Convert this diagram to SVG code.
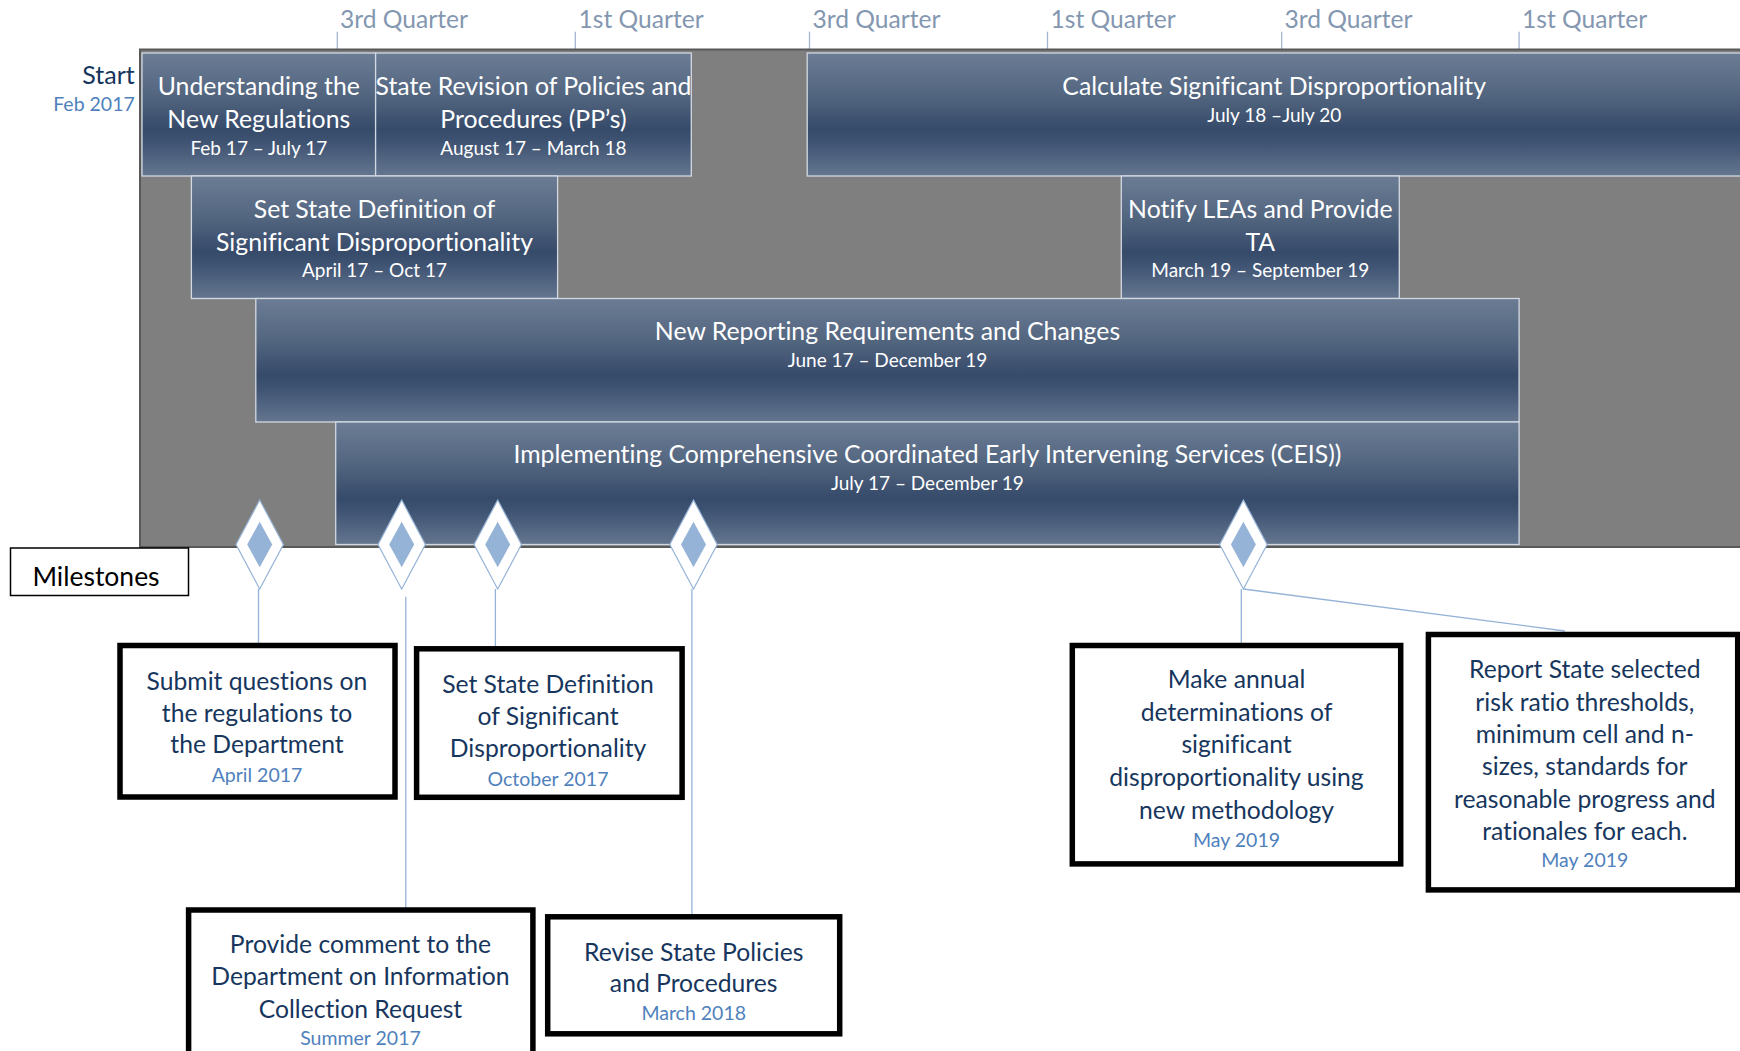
<svg xmlns="http://www.w3.org/2000/svg" width="1740" height="1051" viewBox="0 0 1740 1051">
<defs>
<linearGradient id="barg" x1="0" y1="0" x2="0" y2="1">
<stop offset="0" stop-color="#6C7C95"/>
<stop offset="0.35" stop-color="#52657F"/>
<stop offset="0.62" stop-color="#364A6A"/>
<stop offset="0.72" stop-color="#3E5272"/>
<stop offset="1" stop-color="#64768F"/>
</linearGradient>
<style>
text{font-family:Lato,"Liberation Sans",sans-serif;text-anchor:middle;font-variant-ligatures:none}
.q{font-size:24.6px;fill:#8497B0;text-anchor:start}
.tick{stroke:#A3B5CE;stroke-width:1.3}
.bar{fill:url(#barg);stroke:#D3D9E2;stroke-width:1.3}
.bt{font-size:24.8px;fill:#FFFFFF}
.bd{font-size:19px;fill:#FFFFFF}
.mb{fill:#FFFFFF;stroke:#000000;stroke-width:5.5}
.mt{font-size:24.7px;fill:#17365D}
.md{font-size:19.5px;fill:#4F81BD}
.conn{stroke:#95B3D7;stroke-width:1.3;fill:none}
.dout{fill:#FFFFFF;stroke:#95B3D7;stroke-width:1.2}
.din{fill:#95B3D7}
</style>
</defs>
<rect width="1740" height="1051" fill="#FFFFFF"/>

<g id="quarters">
<line class="tick" x1="337.3" y1="31.7" x2="337.3" y2="49"/>
<line class="tick" x1="575.3" y1="31.7" x2="575.3" y2="49"/>
<line class="tick" x1="809.5" y1="31.7" x2="809.5" y2="49"/>
<line class="tick" x1="1047.5" y1="31.7" x2="1047.5" y2="49"/>
<line class="tick" x1="1281.7" y1="31.7" x2="1281.7" y2="49"/>
<line class="tick" x1="1519.1" y1="31.7" x2="1519.1" y2="49"/>
<text class="q" x="340" y="28.3">3rd Quarter</text>
<text class="q" x="578.5" y="28.3">1st Quarter</text>
<text class="q" x="812.5" y="28.3">3rd Quarter</text>
<text class="q" x="1050.5" y="28.3">1st Quarter</text>
<text class="q" x="1284.5" y="28.3">3rd Quarter</text>
<text class="q" x="1522" y="28.3">1st Quarter</text>
</g>

<g id="background">
<rect x="140" y="49.5" width="1610" height="497.5" fill="#7F7F7F" stroke="#595959" stroke-width="2"/>
</g>

<g id="start">
<text x="134.8" y="84" style="text-anchor:end;font-size:25px;fill:#17365D">Start</text>
<text x="134.8" y="110.7" style="text-anchor:end;font-size:19.5px;fill:#4F81BD">Feb 2017</text>
</g>

<g id="bar-understanding">
<rect class="bar" x="142" y="53" width="233.6" height="123"/>
<text class="bt" x="258.8" y="95">Understanding the</text>
<text class="bt" x="258.8" y="127.7">New Regulations</text>
<text class="bd" x="258.8" y="155">Feb 17 – July 17</text>
</g>
<g id="bar-revision">
<rect class="bar" x="375.6" y="53" width="315.7" height="123"/>
<text class="bt" x="533.5" y="95">State Revision of Policies and</text>
<text class="bt" x="533.5" y="127.7">Procedures (PP’s)</text>
<text class="bd" x="533.5" y="155">August 17 – March 18</text>
</g>
<g id="bar-calculate">
<rect class="bar" x="807.2" y="53" width="940" height="123"/>
<text class="bt" x="1274.2" y="95">Calculate Significant Disproportionality</text>
<text class="bd" x="1274.2" y="121.7">July 18 –July 20</text>
</g>
<g id="bar-setdef">
<rect class="bar" x="191.4" y="176" width="366.2" height="122.5"/>
<text class="bt" x="374.5" y="217.5">Set State Definition of</text>
<text class="bt" x="374.5" y="250.5">Significant Disproportionality</text>
<text class="bd" x="374.5" y="277.3">April 17 – Oct 17</text>
</g>
<g id="bar-notify">
<rect class="bar" x="1121.3" y="176" width="278" height="122.5"/>
<text class="bt" x="1260.3" y="218">Notify LEAs and Provide</text>
<text class="bt" x="1260.3" y="250.7">TA</text>
<text class="bd" x="1260.3" y="277.3">March 19 – September 19</text>
</g>
<g id="bar-reporting">
<rect class="bar" x="255.8" y="298.5" width="1263.3" height="123.5"/>
<text class="bt" x="887.5" y="340">New Reporting Requirements and Changes</text>
<text class="bd" x="887.5" y="367.3">June 17 – December 19</text>
</g>
<g id="bar-ceis">
<rect class="bar" x="335.7" y="422" width="1183.4" height="122.5"/>
<text class="bt" x="927.4" y="462.7">Implementing Comprehensive Coordinated Early Intervening Services (CEIS))</text>
<text class="bd" x="927.4" y="490">July 17 – December 19</text>
</g>

<g id="milestones-label">
<rect x="10.5" y="548" width="178" height="47.5" fill="#FFFFFF" stroke="#000000" stroke-width="1.5"/>
<text x="96" y="586" style="font-size:26.5px;fill:#000000">Milestones</text>
</g>

<g id="connectors">
<line class="conn" x1="258.5" y1="589" x2="258.5" y2="643"/>
<line class="conn" x1="405.8" y1="596.7" x2="405.8" y2="908"/>
<line class="conn" x1="495.4" y1="589" x2="495.4" y2="647"/>
<line class="conn" x1="691.9" y1="589" x2="691.9" y2="915"/>
<line class="conn" x1="1241.3" y1="589" x2="1241.3" y2="643"/>
<line class="conn" x1="1243.4" y1="589" x2="1565" y2="631"/>
</g>

<g id="diamond-1">
<polygon class="dout" points="259.7,500 283.4,544.5 259.7,589 236,544.5"/>
<polygon class="din" points="259.7,521.8 272.2,544.5 259.7,567.3 247.2,544.5"/>
</g>
<g id="diamond-2">
<polygon class="dout" points="401.7,500 425.4,544.5 401.7,589 378,544.5"/>
<polygon class="din" points="401.7,521.8 414.2,544.5 401.7,567.3 389.2,544.5"/>
</g>
<g id="diamond-3">
<polygon class="dout" points="497.7,500 521.4,544.5 497.7,589 474,544.5"/>
<polygon class="din" points="497.7,521.8 510.2,544.5 497.7,567.3 485.2,544.5"/>
</g>
<g id="diamond-4">
<polygon class="dout" points="693.5,500 717.2,544.5 693.5,589 669.8,544.5"/>
<polygon class="din" points="693.5,521.8 706,544.5 693.5,567.3 681,544.5"/>
</g>
<g id="diamond-5">
<polygon class="dout" points="1243.4,500 1267.1,544.5 1243.4,589 1219.7,544.5"/>
<polygon class="din" points="1243.4,521.8 1255.9,544.5 1243.4,567.3 1230.9,544.5"/>
</g>

<g id="ms-submit">
<rect class="mb" x="120" y="645.5" width="275" height="151.5"/>
<text class="mt" x="257" y="690">Submit questions on</text>
<text class="mt" x="257" y="722">the regulations to</text>
<text class="mt" x="257" y="753.3">the Department</text>
<text class="md" x="257" y="781.7">April 2017</text>
</g>
<g id="ms-setdef">
<rect class="mb" x="416.6" y="648.8" width="265.5" height="148.5"/>
<text class="mt" x="548" y="693.3">Set State Definition</text>
<text class="mt" x="548" y="724.8">of Significant</text>
<text class="mt" x="548" y="757">Disproportionality</text>
<text class="md" x="548" y="786">October 2017</text>
</g>
<g id="ms-comment">
<rect class="mb" x="188.6" y="910" width="344.3" height="200"/>
<text class="mt" x="360.5" y="952.7">Provide comment to the</text>
<text class="mt" x="360.5" y="985">Department on Information</text>
<text class="mt" x="360.5" y="1018.3">Collection Request</text>
<text class="md" x="360.5" y="1045">Summer 2017</text>
</g>
<g id="ms-revise">
<rect class="mb" x="547.7" y="916.8" width="292" height="117"/>
<text class="mt" x="693.7" y="961">Revise State Policies</text>
<text class="mt" x="693.7" y="992.3">and Procedures</text>
<text class="md" x="693.7" y="1020">March 2018</text>
</g>
<g id="ms-annual">
<rect class="mb" x="1072.3" y="645.5" width="328.4" height="218.4"/>
<text class="mt" x="1236.5" y="688.3">Make annual</text>
<text class="mt" x="1236.5" y="721">determinations of</text>
<text class="mt" x="1236.5" y="753.3">significant</text>
<text class="mt" x="1236.5" y="785.7">disproportionality using</text>
<text class="mt" x="1236.5" y="819">new methodology</text>
<text class="md" x="1236.5" y="846.7">May 2019</text>
</g>
<g id="ms-report">
<rect class="mb" x="1428.4" y="634.5" width="309.3" height="255.4"/>
<text class="mt" x="1584.8" y="678.3">Report State selected</text>
<text class="mt" x="1584.8" y="710.5">risk ratio thresholds,</text>
<text class="mt" x="1584.8" y="742.7">minimum cell and n-</text>
<text class="mt" x="1584.8" y="775">sizes, standards for</text>
<text class="mt" x="1584.8" y="807.7">reasonable progress and</text>
<text class="mt" x="1584.8" y="840">rationales for each.</text>
<text class="md" x="1584.8" y="866.7">May 2019</text>
</g>
</svg>
